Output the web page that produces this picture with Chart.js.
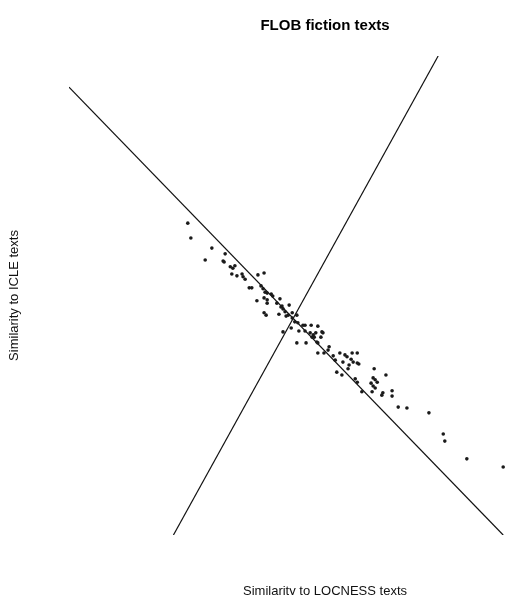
<!DOCTYPE html>
<html>
<head>
<meta charset="utf-8">
<title>FLOB fiction texts</title>
<script src="https://cdn.jsdelivr.net/npm/chart.js@4/dist/chart.umd.min.js"></script>
<style>
  html, body { margin: 0; padding: 0; background: #fff; }
  #wrap { width: 505px; height: 595px; overflow: hidden; position: relative; }
  #c { display: block; }
</style>
</head>
<body>
<div id="wrap"><canvas id="c" width="650" height="595"></canvas></div>
<script>
// Similarity of each FLOB fiction text to LOCNESS (x) and to ICLE (y)
const locnessSim = [
  23.2, 23.8, 27.9, 26.6, 30.5, 30.1, 30.3, 31.5, 32.4, 32.0,
  31.8, 32.8, 33.8, 34.0, 34.4, 36.9, 38.1, 35.2, 35.7, 37.5,
  37.9, 38.3, 38.7, 39.5, 36.7, 38.1, 38.7, 39.8, 38.7, 41.2,
  40.6, 41.4, 41.8, 42.2, 43.0, 38.1, 38.5, 41.0, 43.6, 42.8,
  44.5, 44.1, 44.7, 43.4, 43.6, 45.7, 46.1, 47.3, 48.6, 44.9,
  46.1, 47.1, 47.7, 47.9, 47.5, 48.2, 49.4, 49.6, 49.2, 44.5,
  46.3, 48.4, 48.6, 50.8, 48.6, 49.8, 50.6, 51.6, 52.0, 52.9,
  53.9, 54.3, 55.3, 56.3, 53.5, 55.1, 55.5, 56.3, 52.3, 53.3,
  54.7, 56.6, 54.5, 55.9, 56.3, 59.6, 61.9, 59.4, 59.8, 60.2,
  59.0, 59.4, 59.8, 59.2, 57.2, 61.3, 61.1, 63.1, 63.1, 64.3,
  66.0, 70.3, 73.1, 73.4, 77.7, 84.8, 41.8, 42.4, 41.6
];
const icleSim = [
  65.1, 62.0, 59.9, 57.4, 58.7, 57.2, 57.0, 56.0, 56.2, 55.7,
  54.5, 54.1, 54.5, 53.9, 53.4, 54.3, 54.7, 51.6, 51.6, 52.0,
  51.4, 50.7, 50.5, 50.3, 48.9, 49.5, 49.1, 49.9, 48.4, 49.3,
  48.4, 47.6, 47.2, 46.6, 48.0, 46.4, 45.9, 46.1, 46.4, 45.9,
  45.9, 44.5, 44.3, 43.2, 45.3, 43.8, 43.8, 43.8, 43.6, 42.6,
  42.6, 42.2, 41.8, 41.3, 41.3, 42.2, 42.4, 42.2, 41.3, 40.1,
  40.1, 40.3, 40.1, 39.3, 38.0, 38.0, 38.6, 37.4, 36.5, 38.0,
  37.6, 37.2, 38.0, 38.0, 36.1, 36.7, 36.1, 35.9, 34.0, 33.4,
  35.5, 35.7, 34.7, 32.6, 31.9, 34.7, 33.4, 32.8, 32.4, 31.9,
  31.7, 31.1, 30.7, 29.9, 29.9, 29.7, 29.2, 30.1, 29.0, 26.7,
  26.5, 25.5, 21.1, 19.6, 15.9, 14.2, 42.4, 45.7, 47.8
];

// End points of the two reference lines (clipped to the plot region)
const lineFallX = [0, 84.8];
const lineFallY = [93.5, 0];
const lineRiseX = [20.4, 72.1];
const lineRiseY = [0, 100];

const titleText = 'FLOB fiction texts';
const xLabel = 'Similarity to LOCNESS texts';
const yLabel = 'Similarity to ICLE texts';

const family = '"Liberation Sans", Arial, Helvetica, sans-serif';
const toPoints = (xs, ys) => xs.map((x, i) => ({ x: x, y: ys[i] }));

// Bare axis: no ticks, grid or line, only an optional title
const bareAxis = (extra) => Object.assign({
  type: 'linear',
  min: 0,
  max: 100,
  ticks: { display: false },
  grid: { display: false, drawTicks: false },
  border: { display: false }
}, extra);

new Chart(document.getElementById('c'), {
  type: 'scatter',
  data: {
    datasets: [
      {
        data: toPoints(locnessSim, icleSim),
        pointRadius: 1.8,
        pointBackgroundColor: '#1a1a1a',
        pointBorderWidth: 0,
        showLine: false,
        clip: 0
      },
      {
        data: toPoints(lineFallX, lineFallY),
        showLine: true,
        borderColor: '#111',
        borderWidth: 1.2,
        pointRadius: 0,
        clip: 0
      },
      {
        data: toPoints(lineRiseX, lineRiseY),
        showLine: true,
        borderColor: '#111',
        borderWidth: 1.2,
        pointRadius: 0,
        clip: 0
      }
    ]
  },
  options: {
    responsive: false,
    animation: false,
    events: [],
    layout: { padding: { left: 0, top: 0, bottom: 0, right: 69 } },
    plugins: {
      legend: { display: false },
      tooltip: { enabled: false },
      title: { display: false }
    },
    scales: {
      x: bareAxis({
        position: 'bottom',
        title: {
          display: true,
          text: xLabel,
          color: '#111',
          font: { family: family, size: 13, lineHeight: 1 },
          padding: { top: 50, bottom: -3 }
        }
      }),
      // top axis carries the main title, centred over the plot region
      xTop: bareAxis({
        axis: 'x',
        position: 'top',
        title: {
          display: true,
          text: titleText,
          color: '#000',
          font: { family: family, size: 15, weight: 'bold', lineHeight: 1 },
          padding: { top: 18, bottom: 23 }
        }
      }),
      y: bareAxis({
        position: 'left',
        title: {
          display: true,
          text: yLabel,
          color: '#111',
          font: { family: family, size: 13, lineHeight: 1 },
          padding: { top: 7.5, bottom: 48.5 }
        }
      })
    }
  }
});
</script>
</body>
</html>
